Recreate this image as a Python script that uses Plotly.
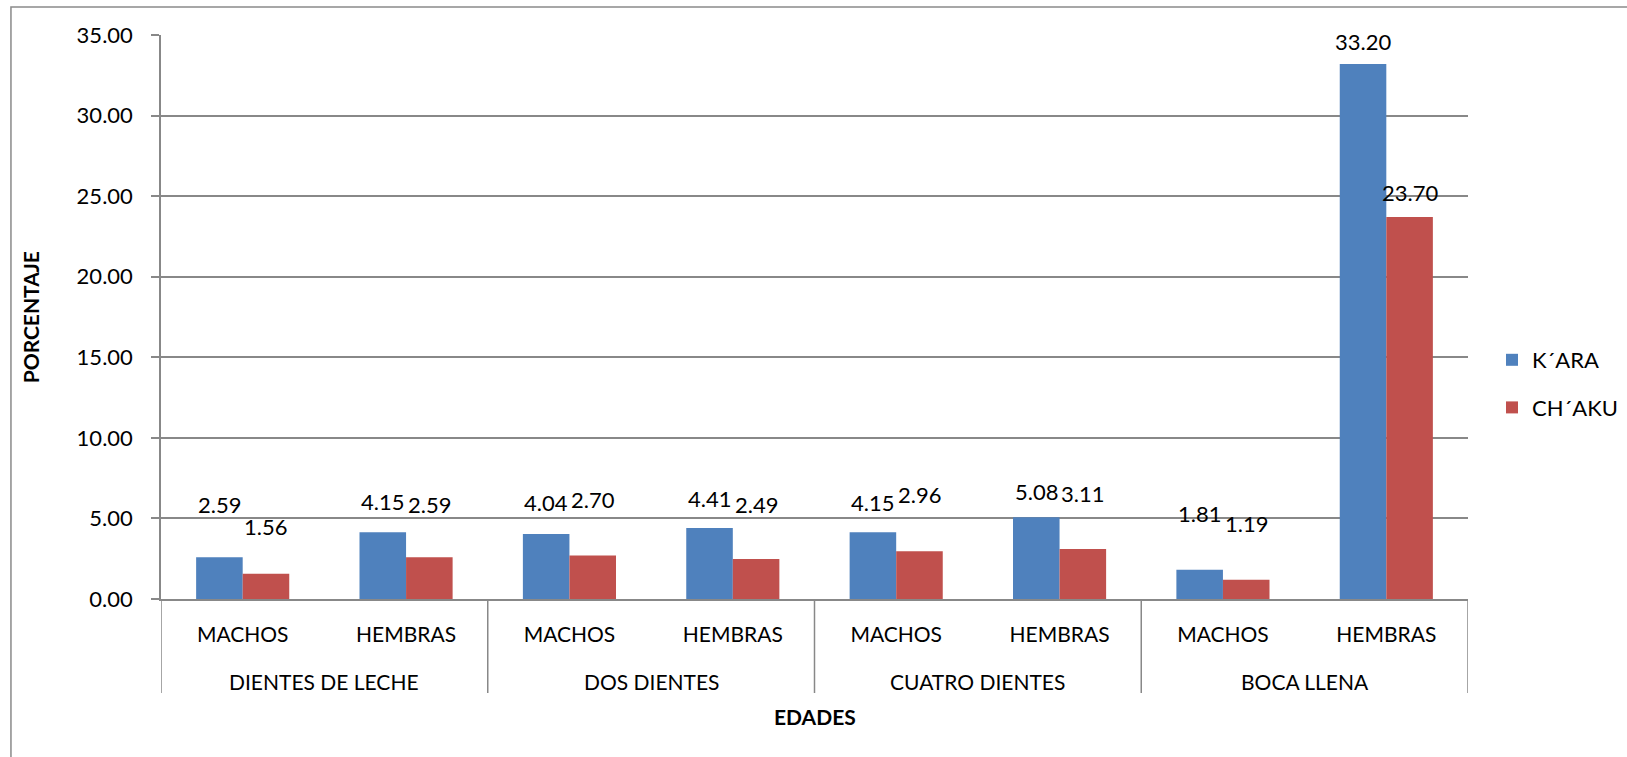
import plotly.graph_objects as go

# Age groups, sex within each group, and the two breeds
grupos = ["DIENTES DE LECHE", "DOS DIENTES", "CUATRO DIENTES", "BOCA LLENA"]
sexos = ["MACHOS", "HEMBRAS"] * 4
kara = [2.59, 4.15, 4.04, 4.41, 4.15, 5.08, 1.81, 33.20]
chaku = [1.56, 2.59, 2.70, 2.49, 2.96, 3.11, 1.19, 23.70]

# pixel lift of each value label above its bar top (label placement)
kara_lift = [53, 31, 31, 29, 30, 26, 56, 23]
chaku_lift = [47, 53, 56, 54, 57, 55, 56, 25]

BLUE = "#4F81BD"
RED = "#C0504D"
GRID = "#888888"
FONT = "Lato, 'Open Sans', sans-serif"
NUM_SIZE = 22
CAT_SIZE = 21

pos = list(range(len(sexos)))
per_group = len(sexos) // len(grupos)

fig = go.Figure()
fig.add_trace(go.Bar(x=pos, y=kara, name="K´ARA", legendgroup="k",
                     marker=dict(color=BLUE, line=dict(width=0))))
fig.add_trace(go.Bar(x=pos, y=chaku, name="CH´AKU", legendgroup="c",
                     marker=dict(color=RED, line=dict(width=0))))

half = (1 - 0.43) / 4
annotations = []
for i, (a, b) in enumerate(zip(kara, chaku)):
    annotations.append(dict(x=i - half, y=a, xref="x", yref="y", text=f"{a:.2f}",
                            showarrow=False, yshift=kara_lift[i],
                            font=dict(family=FONT, size=NUM_SIZE, color="#000")))
    annotations.append(dict(x=i + half, y=b, xref="x", yref="y", text=f"{b:.2f}",
                            showarrow=False, yshift=chaku_lift[i],
                            font=dict(family=FONT, size=NUM_SIZE, color="#000")))

# group labels under the sex labels, with dividers between groups
shapes = []
for g, name in enumerate(grupos):
    first = g * per_group
    centre = first + (per_group - 1) / 2
    annotations.append(dict(x=centre, y=-0.1454, xref="x", yref="paper", text=name,
                            showarrow=False, xanchor="center", yanchor="middle",
                            font=dict(family=FONT, size=CAT_SIZE, color="#000")))
for k in range(len(grupos) + 1):
    xb = k * per_group - 0.5
    shapes.append(dict(type="line", xref="x", yref="paper", x0=xb, x1=xb,
                       y0=0, y1=-0.1667, line=dict(color=GRID, width=1.5)))

annotations.append(dict(text="<b>PORCENTAJE</b>", xref="paper", yref="paper",
                        x=-0.1, y=0.5, xanchor="center", yanchor="middle",
                        textangle=-90, showarrow=False,
                        font=dict(family=FONT, size=CAT_SIZE, color="#000")))
annotations.append(dict(text="<b>EDADES</b>", xref="paper", yref="paper",
                        x=0.5, y=-0.208, xanchor="center", yanchor="middle",
                        showarrow=False, font=dict(family=FONT, size=CAT_SIZE, color="#000")))

# outer chart border
shapes.append(dict(type="rect", xref="paper", yref="paper",
                   x0=-0.1148, x1=1.3, y0=-0.5, y1=1.0496,
                   line=dict(color="#8a8a8a", width=1.5), fillcolor="rgba(0,0,0,0)",
                   layer="below"))

fig.update_layout(
    width=1627, height=757,
    margin=dict(l=161, r=159, t=35, b=158, autoexpand=False),
    paper_bgcolor="white", plot_bgcolor="white",
    barmode="group", bargap=0.43, bargroupgap=0,
    font=dict(family=FONT, size=NUM_SIZE, color="#000"),
    showlegend=True,
    legend=dict(xref="container", yref="container", x=1492 / 1627, y=1 - 384 / 757,
                xanchor="left", yanchor="middle", traceorder="grouped",
                font=dict(family=FONT, size=NUM_SIZE, color="#000"),
                itemsizing="constant", tracegroupgap=16, bgcolor="rgba(0,0,0,0)"),
    annotations=annotations,
    shapes=shapes,
)

fig.update_yaxes(range=[0, 35], dtick=5, tickformat=".2f",
                 showgrid=True, gridcolor=GRID, gridwidth=1.5,
                 showline=True, linecolor=GRID, linewidth=1.5,
                 ticks="outside", ticklen=8, tickcolor=GRID, tickwidth=1.5,
                 ticklabelstandoff=14, zeroline=False,
                 tickfont=dict(family=FONT, size=NUM_SIZE, color="#000"))
fig.update_xaxes(range=[-0.5, len(sexos) - 0.5], tickvals=pos, ticktext=sexos,
                 showgrid=False, zeroline=False,
                 showline=True, linecolor=GRID, linewidth=1.5,
                 ticks="", ticklabelstandoff=16,
                 tickfont=dict(family=FONT, size=CAT_SIZE, color="#000"))

fig.write_html("out.html")
